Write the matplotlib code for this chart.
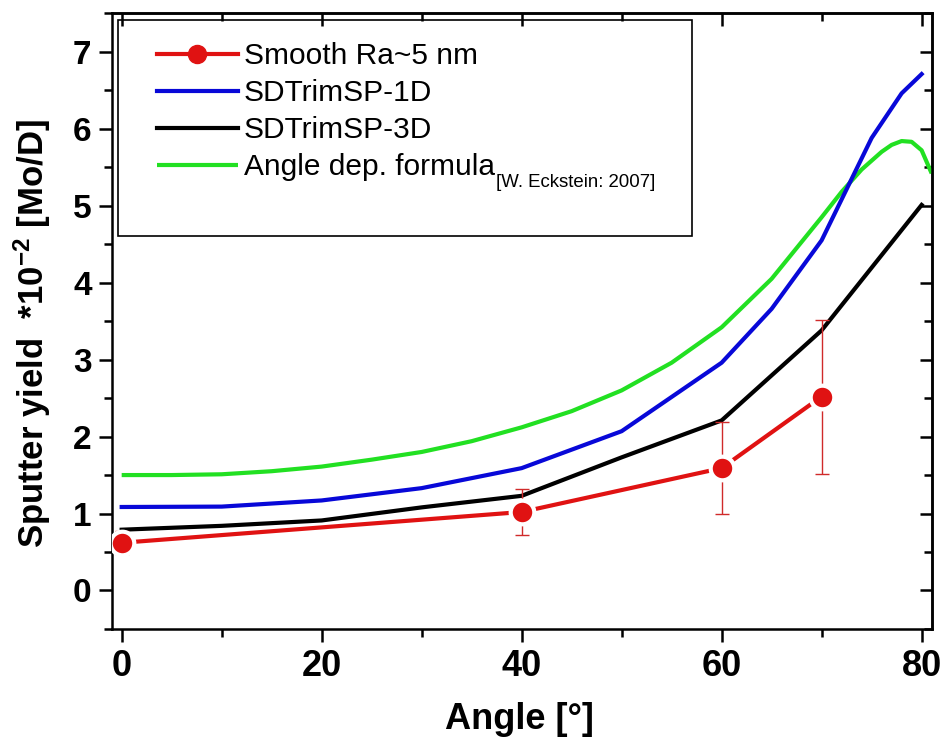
import matplotlib
matplotlib.use('Agg')
import matplotlib.pyplot as plt
from matplotlib.lines import Line2D
from matplotlib.patches import Rectangle
from matplotlib.ticker import MultipleLocator

plt.rcParams['font.family'] = 'Liberation Sans'
plt.rcParams['mathtext.fontset'] = 'custom'
plt.rcParams['mathtext.rm'] = 'Liberation Sans'
plt.rcParams['mathtext.bf'] = 'Liberation Sans:bold'
plt.rcParams['mathtext.it'] = 'Liberation Sans:italic'

# measured sputter yield, smooth sample (Ra ~ 5 nm)
angle_exp = [0, 40, 60, 70]
yield_exp = [0.62, 1.02, 1.59, 2.52]
yield_err = [0.15, 0.30, 0.60, 1.00]

# SDTrimSP 1D
angle_1d = [0, 10, 20, 30, 40, 50, 60, 65, 70, 75, 78, 80]
yield_1d = [1.085, 1.09, 1.17, 1.33, 1.59, 2.07, 2.96, 3.66, 4.55, 5.88, 6.46, 6.71]

# SDTrimSP 3D
angle_3d = [0, 10, 20, 30, 40, 50, 60, 70, 80]
yield_3d = [0.79, 0.84, 0.91, 1.08, 1.23, 1.73, 2.21, 3.38, 5.01]

# Eckstein angular dependence formula
angle_fit = [0, 5, 10, 15, 20, 25, 30, 35, 40, 45, 50, 55, 60, 65, 70, 72, 74, 76, 77, 78, 79, 80, 81]
yield_fit = [1.50, 1.50, 1.51, 1.55, 1.61, 1.70, 1.80, 1.94, 2.12, 2.33, 2.60, 2.96, 3.42,
             4.05, 4.85, 5.18, 5.47, 5.70, 5.79, 5.84, 5.83, 5.72, 5.42]

labels = ['Smooth Ra~5 nm', 'SDTrimSP-1D', 'SDTrimSP-3D', 'Angle dep. formula']
ref_note = '[W. Eckstein: 2007]'

red = '#e01212'
blue = '#0808d8'
green = '#22e022'

fig = plt.figure(figsize=(9.44, 7.47), dpi=100)
ax = fig.add_axes([0.1183, 0.158, 0.8686, 0.8242])

l_fit, = ax.plot(angle_fit, yield_fit, color=green, lw=3, zorder=2, solid_capstyle='butt')
l_3d, = ax.plot(angle_3d, yield_3d, color='black', lw=3, zorder=3)
l_1d, = ax.plot(angle_1d, yield_1d, color=blue, lw=3, zorder=4)
ax.errorbar(angle_exp, yield_exp, yerr=yield_err, fmt='none', ecolor='#d02a2a',
            elinewidth=1, capsize=5, capthick=1, zorder=5)
ax.plot(angle_exp, yield_exp, color=red, lw=3, zorder=6)
ax.plot(angle_exp, yield_exp, ls='none', marker='o', ms=17, mfc=red, mec='white',
        mew=3, zorder=7)

ax.set_xlim(-1, 81)
ax.set_ylim(-0.5, 7.5)
ax.set_xticks([0, 20, 40, 60, 80])
ax.set_yticks(range(0, 8))
ax.xaxis.set_minor_locator(MultipleLocator(10))
ax.yaxis.set_minor_locator(MultipleLocator(0.5))
ax.tick_params(which='major', direction='out', length=9.5, width=1.8, pad=5)
ax.tick_params(which='minor', direction='out', length=5.5, width=1.8)
ax.tick_params(axis='x', labelsize=26)
ax.tick_params(axis='y', labelsize=24)
for lbl in ax.get_xticklabels() + ax.get_yticklabels():
    lbl.set_fontweight('bold')
for sp in ax.spines.values():
    sp.set_linewidth(1.8)

# mirrored ticks on top and right, pointing inwards
top = ax.secondary_xaxis('top')
top.set_xticks([0, 20, 40, 60, 80])
top.xaxis.set_minor_locator(MultipleLocator(10))
top.tick_params(which='major', direction='in', length=9, width=1.8, labeltop=False)
top.tick_params(which='minor', direction='in', length=5.5, width=1.8)
top.spines['top'].set_linewidth(1.8)
right = ax.secondary_yaxis('right')
right.set_yticks(range(0, 8))
right.yaxis.set_minor_locator(MultipleLocator(0.5))
right.tick_params(which='major', direction='in', length=9, width=1.8, labelright=False)
right.tick_params(which='minor', direction='in', length=5.5, width=1.8)
right.spines['right'].set_linewidth(1.8)

ax.set_xlabel('Angle [°]', fontsize=26, fontweight='bold')
ax.xaxis.set_label_coords(0.497, -0.118)
ax.set_ylabel(r'Sputter yield  *10$^{\mathbf{-2}}$ [Mo/D]', fontsize=25, fontweight='bold')
ax.yaxis.set_label_coords(-0.071, 0.48)

red_handle = Line2D([], [], color=red, lw=3, marker='o', ms=13, mfc=red, mec=red)
leg = ax.legend([red_handle, l_1d, l_3d, l_fit], labels, loc='upper left',
                bbox_to_anchor=(0.0552, 0.953), borderaxespad=0, borderpad=0,
                frameon=False, prop={'size': 21.5}, handlelength=2.7,
                handletextpad=0.2, labelspacing=0.3, numpoints=1)
# citation written as a subscript after the last legend entry
# (zorder above the legend so it is placed after the legend text is laid out)
ax.annotate(ref_note, xy=(1, 0), xycoords=leg.get_texts()[3],
            xytext=(1.0, -4.5), textcoords='offset points',
            ha='left', va='baseline', fontsize=13.4, zorder=10)
ax.add_patch(Rectangle((0.0077, 0.638), 0.700, 0.351, transform=ax.transAxes,
                       fill=False, lw=1.2, ec='black', zorder=8))

fig.savefig('out.png', dpi=100)
